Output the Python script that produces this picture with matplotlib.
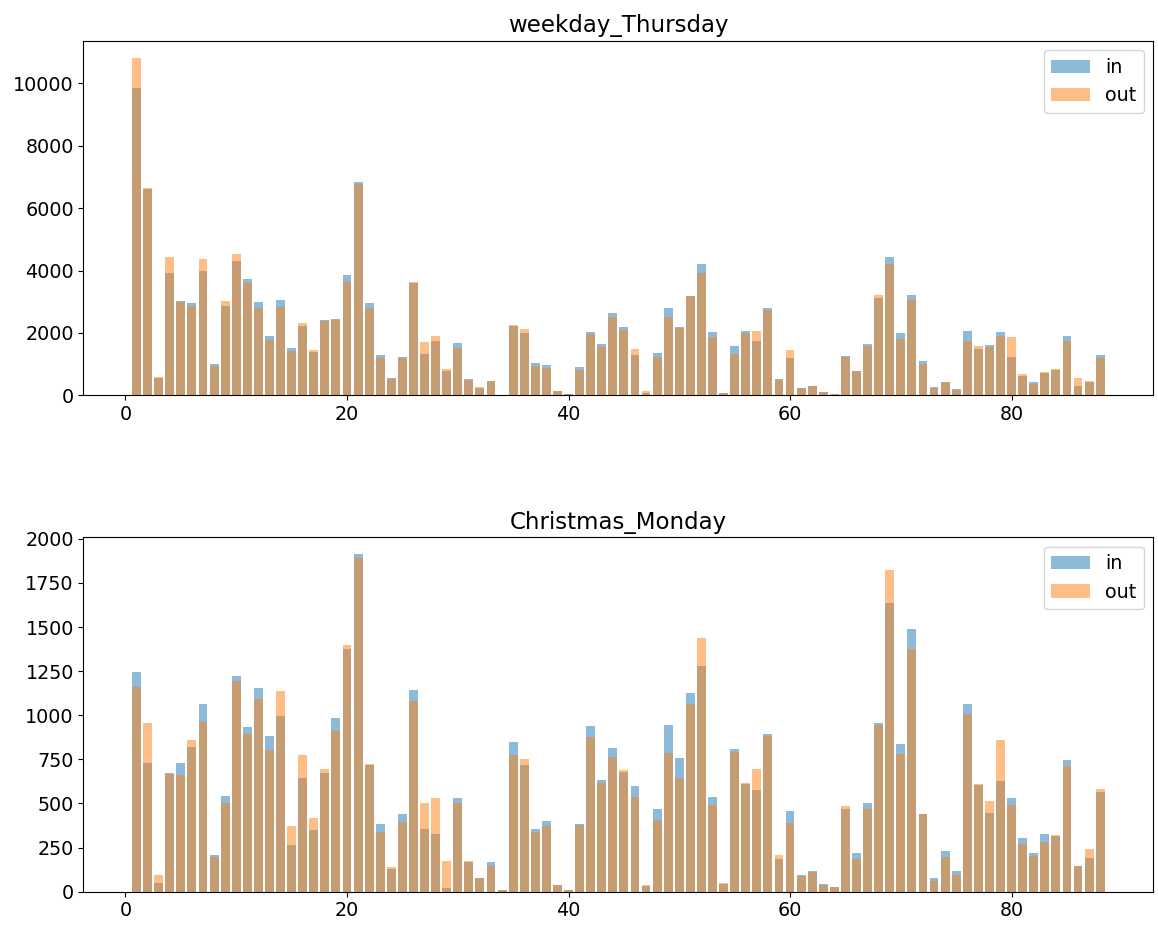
import matplotlib
matplotlib.use("Agg")
import matplotlib.pyplot as plt
import numpy as np

stations = list(range(1, 89))

thu_in = [9850, 6610, 550, 3920, 3030, 2970, 4000, 1010, 2850, 4290,
          3740, 2990, 1910, 3060, 1530, 2220, 1380, 2420, 2460, 3850,
          6820, 2950, 1310, 550, 1220, 3610, 1330, 1740, 790, 1680,
          540, 225, 460, 15, 2210, 1990, 1030, 990, 140, 30,
          920, 2030, 1650, 2630, 2200, 1310, 65, 1350, 2800, 2200,
          3170, 4215, 2030, 70, 1570, 2060, 1740, 2790, 530, 1210,
          240, 300, 115, 50, 1275, 775, 1645, 3120, 4440, 2010,
          3205, 1095, 255, 445, 210, 2050, 1475, 1625, 2040, 1240,
          615, 415, 730, 805, 1900, 310, 440, 1295]
thu_out = [10820, 6650, 600, 4440, 2980, 2850, 4370, 945, 3030, 4540,
           3600, 2790, 1780, 2820, 1410, 2330, 1440, 2370, 2420, 3630,
           6760, 2800, 1210, 540, 1210, 3630, 1700, 1910, 860, 1530,
           500, 265, 450, 10, 2250, 2130, 945, 890, 140, 30,
           830, 1960, 1540, 2520, 2100, 1500, 130, 1220, 2500, 2170,
           3180, 3920, 1870, 65, 1340, 2010, 2050, 2720, 500, 1470,
           250, 295, 120, 55, 1240, 775, 1590, 3220, 4225, 1815,
           3045, 1020, 250, 415, 180, 1750, 1570, 1560, 1890, 1870,
           700, 380, 735, 850, 1750, 550, 455, 1210]

xmas_in = [1245, 730, 51, 675, 730, 821, 1065, 208, 545, 1220,
           933, 1155, 880, 997, 265, 645, 350, 674, 984, 1378,
           1915, 717, 386, 129, 443, 1145, 354, 327, 23, 532,
           170, 76, 170, 11, 846, 719, 354, 399, 40, 9,
           386, 939, 634, 812, 676, 600, 30, 471, 942, 759,
           1126, 1281, 539, 45, 810, 611, 575, 895, 184, 458,
           92, 115, 45, 26, 469, 221, 503, 954, 1637, 835,
           1489, 443, 76, 231, 115, 1065, 602, 445, 630, 532,
           303, 220, 327, 316, 744, 146, 191, 566]
xmas_out = [1160, 955, 93, 665, 660, 857, 960, 197, 500, 1192,
            895, 1094, 802, 1137, 375, 776, 416, 696, 910, 1397,
            1894, 723, 341, 138, 396, 1083, 503, 530, 172, 501,
            172, 78, 148, 11, 774, 751, 339, 373, 38, 9,
            378, 874, 617, 761, 687, 536, 36, 409, 787, 647,
            1062, 1440, 492, 51, 789, 615, 693, 884, 206, 392,
            89, 110, 38, 28, 486, 187, 466, 944, 1826, 782,
            1376, 441, 61, 195, 95, 1009, 609, 513, 861, 490,
            269, 204, 284, 320, 713, 146, 242, 583]

titles = ["weekday_Thursday", "Christmas_Monday"]

plt.rcParams['font.family'] = ['DejaVu Sans']
plt.rcParams['font.size'] = 13.75

fig, axes = plt.subplots(2, 1, figsize=(11.58, 9.27), dpi=100)
fig.subplots_adjust(left=0.0721, right=0.9959, top=0.9561, bottom=0.0381, hspace=0.399)

for ax, title, vin, vout in zip(axes, titles, [thu_in, xmas_in], [thu_out, xmas_out]):
    ax.bar(stations, vin, alpha=0.5, label="in")
    ax.bar(stations, vout, alpha=0.5, label="out")
    ax.set_title(title, fontsize=16.5)
    ax.legend(loc="upper right", fontsize=13.75)
    ax.tick_params(labelsize=13.75)

fig.savefig("out.png", dpi=100)
